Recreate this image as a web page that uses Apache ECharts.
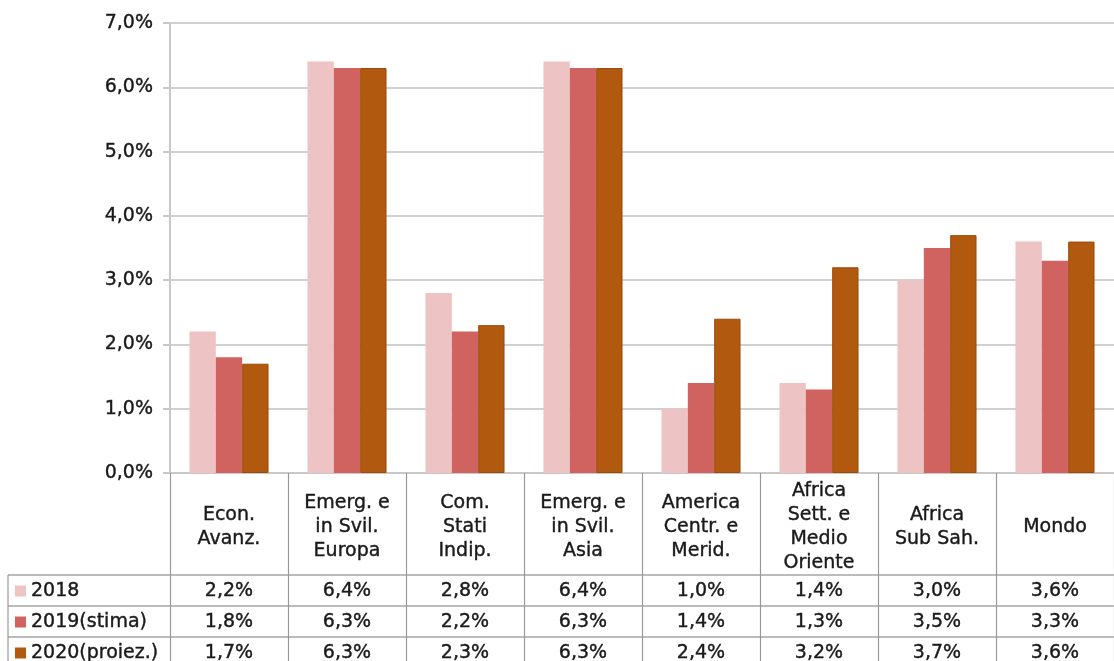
<!DOCTYPE html>
<html>
<head>
<meta charset="utf-8">
<script src="https://cdn.jsdelivr.net/npm/echarts@6/dist/echarts.min.js"></script>
<style>
  html, body { margin: 0; padding: 0; background: #fff; }
  #chart { width: 1114px; height: 661px; }
</style>
</head>
<body>
<div id="chart"></div>
<script>
// categorie (aree)
const categories = [
  'Econ.\nAvanz.',
  'Emerg. e\nin Svil.\nEuropa',
  'Com.\nStati\nIndip.',
  'Emerg. e\nin Svil.\nAsia',
  'America\nCentr. e\nMerid.',
  'Africa\nSett. e\nMedio\nOriente',
  'Africa\nSub Sah.',
  'Mondo'
]
const seriesNames = ['2018', '2019(stima)', '2020(proiez.)']
const values2018 = [2.2, 6.4, 2.8, 6.4, 1.0, 1.4, 3.0, 3.6]
const values2019 = [1.8, 6.3, 2.2, 6.3, 1.4, 1.3, 3.5, 3.3]
const values2020 = [1.7, 6.3, 2.3, 6.3, 2.4, 3.2, 3.7, 3.6]
const colors = ['#eec3c3', '#d0625f', '#b0590f']

const FONT = 'DejaVu Sans'
const FS = 19
const TXT = '#1a1a1a'

// stile testo comune (un filo più marcato, come nell'originale)
const txt = {
  fontFamily: FONT,
  fontSize: FS,
  color: TXT,
  textBorderColor: TXT,
  textBorderWidth: 0.4
}

// geometria
const G_LEFT = 170
const G_TOP = 23
const G_BOTTOM = 188
const H = 661
const axisY = H - G_BOTTOM // 473
const headH = 102 // riga intestazione tabella
const rowH = 31 // righe valori
const tableLeft = 8

const fmt = (v) => v.toFixed(1).replace('.', ',') + '%'

const rows = [values2018, values2019, values2020]

// assi x aggiuntivi = righe della tabella dati
const rowAxes = rows.map((vals, i) => ({
  type: 'category',
  data: vals.map(fmt),
  position: 'bottom',
  offset: headH + rowH * i,
  axisLine: { show: true, onZero: false, lineStyle: { color: '#bbb', width: 2 } },
  axisTick: { show: false },
  axisLabel: {
    interval: 0,
    margin: rowH / 2 + 1,
    verticalAlign: 'middle',
    ...txt
  }
}))

// linee della colonna legenda (a sinistra della griglia)
const leftLines = []
for (let i = 0; i < 3; i++) {
  const y = axisY + headH + rowH * i
  leftLines.push({
    type: 'line',
    shape: { x1: tableLeft, y1: y, x2: G_LEFT, y2: y },
    style: { stroke: '#bbb', lineWidth: 2 }
  })
}
leftLines.push({
  type: 'line',
  shape: { x1: tableLeft, y1: axisY + headH, x2: tableLeft, y2: H },
  style: { stroke: '#999', lineWidth: 1.2 }
})

const option = {
  animation: false,
  color: colors,
  textStyle: { fontFamily: FONT },
  grid: { left: G_LEFT, right: 0, top: G_TOP, bottom: G_BOTTOM, outerBoundsMode: 'none' },
  legend: {
    orient: 'vertical',
    left: 15,
    top: axisY + headH + 6,
    height: 120,
    padding: 0,
    itemWidth: 11,
    itemHeight: 11,
    itemGap: 11,
    icon: 'rect',
    data: seriesNames,
    itemStyle: { borderWidth: 0 },
    textStyle: { ...txt, lineHeight: 20 }
  },
  xAxis: [
    {
      type: 'category',
      data: categories,
      position: 'bottom',
      axisLine: { show: true, onZero: false, lineStyle: { color: '#c8c8c8', width: 2 } },
      axisTick: {
        show: true,
        interval: 0,
        length: G_BOTTOM,
        lineStyle: { color: '#999', width: 1.2 }
      },
      axisLabel: {
        interval: 0,
        margin: 54,
        verticalAlign: 'middle',
        lineHeight: 24,
        ...txt
      }
    },
    ...rowAxes
  ],
  yAxis: {
    type: 'value',
    min: 0,
    max: 7,
    interval: 1,
    axisLine: { show: true, lineStyle: { color: '#c8c8c8', width: 2 } },
    axisTick: { show: true, length: 7, lineStyle: { color: '#c8c8c8', width: 2 } },
    splitLine: { lineStyle: { color: '#d0d0d0', width: 2 } },
    axisLabel: {
      margin: 17,
      ...txt,
      formatter: (v) => fmt(v)
    }
  },
  graphic: leftLines,
  series: [
    { name: seriesNames[0], type: 'bar', data: values2018, barGap: '0%', barCategoryGap: '33%' },
    { name: seriesNames[1], type: 'bar', data: values2019, barGap: '0%', barCategoryGap: '33%' },
    {
      name: seriesNames[2],
      type: 'bar',
      data: values2020,
      barGap: '0%',
      barCategoryGap: '33%',
      itemStyle: { borderColor: '#9a4c0c', borderWidth: 1 }
    }
  ]
}

const myChart = echarts.init(document.getElementById('chart'))
myChart.setOption(option)
</script>
</body>
</html>
